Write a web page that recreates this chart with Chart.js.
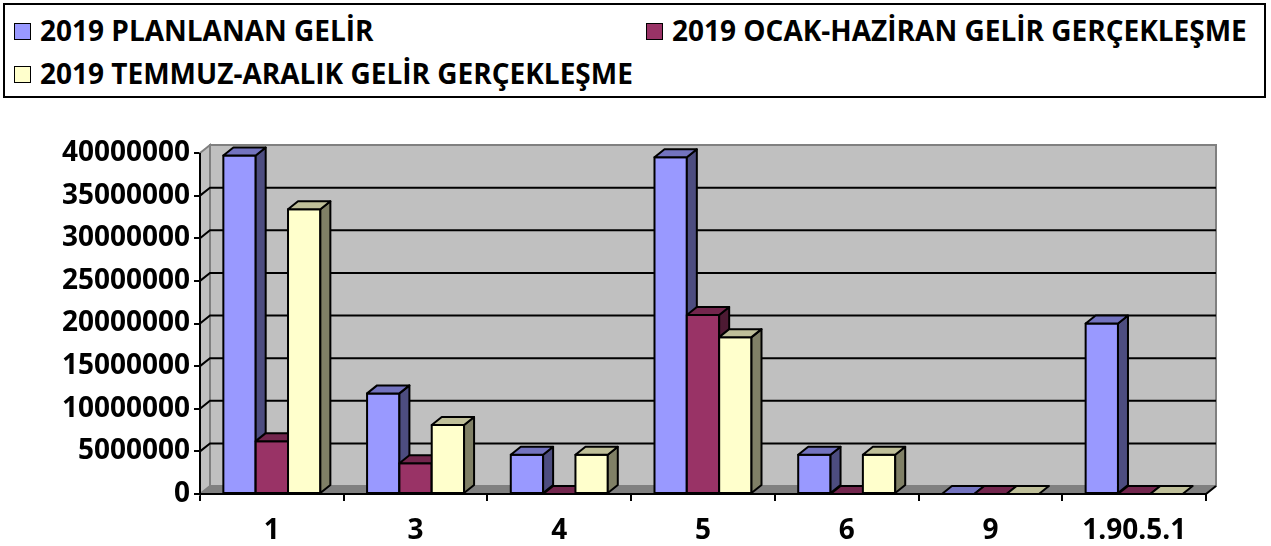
<!DOCTYPE html>
<html>
<head>
<meta charset="utf-8">
<script src="https://cdn.jsdelivr.net/npm/chart.js@4"></script>
<style>
    body { margin: 0; background: #fff; }
    #wrap { position: relative; width: 1271px; height: 546px; overflow: hidden; }
    #chart { position: absolute; left: 0; top: 0; }
    #legend {
        position: absolute; left: 3px; top: 3px; width: 1263px; height: 95px;
        border: 2px solid #000; box-sizing: border-box; background: #fff;
        font-family: "Open Sans", sans-serif; font-weight: bold; font-size: 28px; color: #000;
    }
    .item { position: absolute; white-space: nowrap; line-height: 32px; }
    .box { display: inline-block; width: 15px; height: 15px; border: 1.5px solid #000; margin-right: 9px; vertical-align: 1px; }
</style>
</head>
<body>
<div id="wrap">
    <canvas id="chart" width="1271" height="546"></canvas>
    <div id="legend"></div>
</div>
<script>
// Categories and series
const categories = ['1', '3', '4', '5', '6', '9', '1.90.5.1'];
const planlanan = [39700000, 11800000, 4600000, 39500000, 4600000, 0, 20000000];
const ocakHaziran = [6200000, 3600000, 0, 21000000, 0, 0, 0];
const temmuzAralik = [33400000, 8100000, 4600000, 18400000, 4600000, 0, 0];

const seriesNames = ['2019 PLANLANAN GELİR', '2019 OCAK-HAZİRAN GELİR GERÇEKLEŞME', '2019 TEMMUZ-ARALIK GELİR GERÇEKLEŞME'];
const yTicks = { min: 0, max: 40000000, step: 5000000 };

// Colours for the 3D faces
const frontColors = ['#9999FF', '#993366', '#FFFFCC'];
const topColors = ['#7373BF', '#73264D', '#BFBF99'];
const sideColors = ['#4D4D80', '#4D1A33', '#808066'];

const DX = 10, DY = 8;
const FONT = '"Open Sans", sans-serif';

// Legend (HTML)
const legendPos = [[9, 9], [641, 9], [9, 52]];
const legendEl = document.getElementById('legend');
seriesNames.forEach((name, i) => {
    const item = document.createElement('div');
    item.className = 'item';
    item.style.left = legendPos[i][0] + 'px';
    item.style.top = legendPos[i][1] + 'px';
    item.innerHTML = `<span class="box" style="background:${frontColors[i]}"></span>${name}`;
    legendEl.appendChild(item);
});

function poly(ctx, pts, fill, stroke, lw) {
    ctx.beginPath();
    ctx.moveTo(pts[0][0], pts[0][1]);
    for (let i = 1; i < pts.length; i++) ctx.lineTo(pts[i][0], pts[i][1]);
    ctx.closePath();
    if (fill) { ctx.fillStyle = fill; ctx.fill(); }
    if (stroke) { ctx.strokeStyle = stroke; ctx.lineWidth = lw || 1; ctx.stroke(); }
}

// Draws the walls, floor and the 3D bar faces
const depthPlugin = {
    id: 'depth',
    beforeDatasetsDraw(chart) {
        const ctx = chart.ctx;
        const ca = chart.chartArea;
        const y = chart.scales.y;
        ctx.save();
        ctx.lineJoin = 'miter';
        // back wall
        poly(ctx, [[ca.left + DX, ca.top - DY], [ca.right + DX, ca.top - DY], [ca.right + DX, ca.bottom - DY], [ca.left + DX, ca.bottom - DY]], '#C0C0C0', '#808080', 2);
        // side wall
        poly(ctx, [[ca.left, ca.top], [ca.left + DX, ca.top - DY], [ca.left + DX, ca.bottom - DY], [ca.left, ca.bottom]], '#C0C0C0', '#808080', 2);
        // floor
        poly(ctx, [[ca.left, ca.bottom], [ca.left + DX, ca.bottom - DY], [ca.right + DX, ca.bottom - DY], [ca.right, ca.bottom]], '#808080', '#808080', 1);
        // gridlines
        ctx.strokeStyle = '#000';
        ctx.lineWidth = 2;
        for (let v = yTicks.min + yTicks.step; v < yTicks.max; v += yTicks.step) {
            const py = y.getPixelForValue(v);
            ctx.beginPath();
            ctx.moveTo(ca.left, py);
            ctx.lineTo(ca.left + DX, py - DY);
            ctx.lineTo(ca.right + DX, py - DY);
            ctx.stroke();
        }
        // front axes
        ctx.beginPath();
        ctx.moveTo(ca.left, ca.top);
        ctx.lineTo(ca.left, ca.bottom);
        ctx.lineTo(ca.right, ca.bottom);
        ctx.lineTo(ca.right + DX, ca.bottom - DY);
        ctx.stroke();
        ctx.restore();
    },
    afterDatasetsDraw(chart) {
        const ctx = chart.ctx;
        ctx.save();
        ctx.lineJoin = 'round';
        for (let i = 0; i < chart.data.labels.length; i++) {
            chart.data.datasets.forEach((ds, d) => {
                const bar = chart.getDatasetMeta(d).data[i];
                const { x, y, base, width } = bar.getProps(['x', 'y', 'base', 'width'], true);
                const l = x - width / 2, r = x + width / 2;
                if (base - y > 0.5) {
                    poly(ctx, [[l, y], [r, y], [r, base], [l, base]], frontColors[d], '#000', 2);
                    poly(ctx, [[r, y], [r + DX, y - DY], [r + DX, base - DY], [r, base]], sideColors[d], '#000', 2);
                }
                poly(ctx, [[l, y], [l + DX, y - DY], [r + DX, y - DY], [r, y]], topColors[d], '#000', 2);
            });
        }
        ctx.restore();
    }
};

new Chart(document.getElementById('chart'), {
    type: 'bar',
    data: {
        labels: categories,
        datasets: [
            { label: seriesNames[0], data: planlanan, backgroundColor: frontColors[0] },
            { label: seriesNames[1], data: ocakHaziran, backgroundColor: frontColors[1] },
            { label: seriesNames[2], data: temmuzAralik, backgroundColor: frontColors[2] }
        ]
    },
    options: {
        responsive: false,
        animation: false,
        layout: { padding: { left: 0, right: 65, top: 153, bottom: 0 } },
        datasets: {
            bar: { categoryPercentage: 0.675, barPercentage: 1, borderWidth: 0 }
        },
        plugins: {
            legend: { display: false },
            tooltip: { enabled: false }
        },
        scales: {
            x: {
                afterFit: (s) => { s.height = 52; },
                grid: { display: true, drawOnChartArea: false, drawTicks: true, tickLength: 7, color: '#000', lineWidth: 2, offset: true },
                border: { display: false },
                ticks: {
                    color: '#000',
                    padding: 13,
                    maxRotation: 0,
                    font: { family: FONT, weight: 'bold', size: 28 }
                }
            },
            y: {
                min: yTicks.min,
                max: yTicks.max,
                afterFit: (s) => { s.width = 200; },
                grid: { display: true, drawOnChartArea: false, drawTicks: true, tickLength: 6, color: '#000', lineWidth: 2 },
                border: { display: false },
                ticks: {
                    stepSize: yTicks.step,
                    color: '#000',
                    padding: 4,
                    font: { family: FONT, weight: 'bold', size: 28 },
                    callback: (v) => String(v)
                }
            }
        }
    },
    plugins: [depthPlugin]
});
</script>
</body>
</html>
